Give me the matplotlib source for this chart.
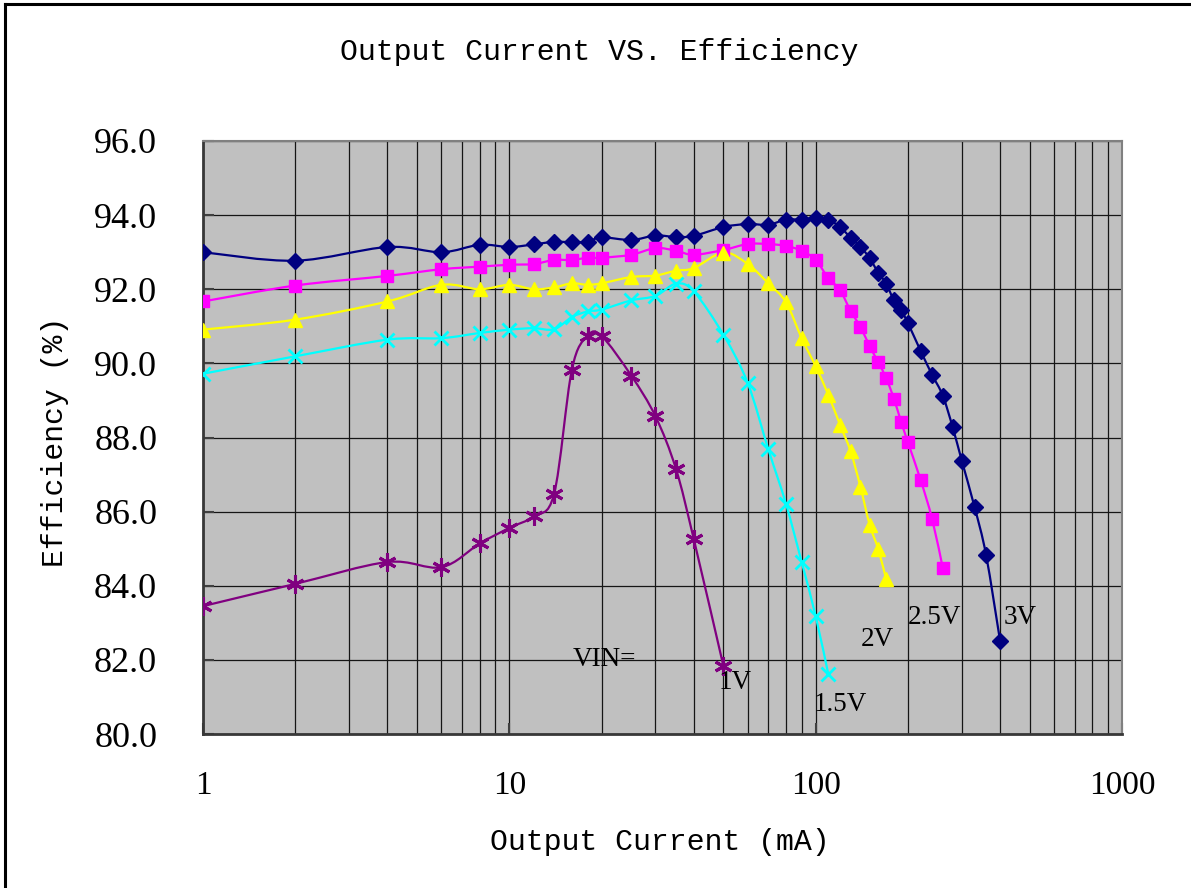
import numpy as np
import matplotlib
matplotlib.use("Agg")
import matplotlib.pyplot as plt
from matplotlib.path import Path
from matplotlib.patches import PathPatch
from matplotlib.lines import Line2D
from matplotlib.ticker import FixedLocator, NullFormatter

# ---- data (current in mA, efficiency in %)
current_3v = [1, 2, 4, 6, 8, 10, 12, 14, 16, 18, 20, 25, 30, 35, 40, 50, 60, 70, 80, 90,
              100, 110, 120, 130, 140, 150, 160, 170, 180, 190, 200, 220, 240, 260, 280,
              300, 330, 360, 400]
eff_3v = [93.00, 92.77, 93.14, 93.00, 93.20, 93.14, 93.21, 93.28, 93.27, 93.28, 93.40,
          93.33, 93.45, 93.41, 93.44, 93.68, 93.76, 93.74, 93.88, 93.88, 93.93, 93.87,
          93.69, 93.39, 93.15, 92.84, 92.45, 92.15, 91.70, 91.44, 91.09, 90.34, 89.69,
          89.13, 88.28, 87.37, 86.13, 84.83, 82.51]

current_25v = [1, 2, 4, 6, 8, 10, 12, 14, 16, 18, 20, 25, 30, 35, 40, 50, 60, 70, 80, 90,
               100, 110, 120, 130, 140, 150, 160, 170, 180, 190, 200, 220, 240, 260]
eff_25v = [91.67, 92.10, 92.36, 92.54, 92.61, 92.66, 92.68, 92.79, 92.79, 92.85, 92.85,
           92.93, 93.11, 93.04, 92.93, 93.06, 93.22, 93.22, 93.17, 93.04, 92.79, 92.30,
           91.98, 91.42, 90.98, 90.47, 90.03, 89.60, 89.05, 88.43, 87.87, 86.86, 85.80,
           84.48]

current_2v = [1, 2, 4, 6, 8, 10, 12, 14, 16, 18, 20, 25, 30, 35, 40, 50, 60, 70, 80, 90,
              100, 110, 120, 130, 140, 150, 160, 170]
eff_2v = [90.91, 91.18, 91.67, 92.12, 92.00, 92.12, 92.00, 92.05, 92.16, 92.12, 92.16,
          92.33, 92.37, 92.50, 92.57, 92.99, 92.68, 92.16, 91.65, 90.68, 89.92, 89.15,
          88.35, 87.63, 86.67, 85.65, 84.99, 84.17]

current_15v = [1, 2, 4, 6, 8, 10, 12, 14, 16, 18, 20, 25, 30, 35, 40, 50, 60, 70, 80, 90,
               100, 110]
eff_15v = [89.72, 90.19, 90.64, 90.68, 90.82, 90.91, 90.95, 90.92, 91.25, 91.40, 91.45,
           91.70, 91.82, 92.15, 91.94, 90.77, 89.47, 87.69, 86.21, 84.64, 83.18, 81.61]

current_1v = [1, 2, 4, 6, 8, 10, 12, 14, 16, 18, 20, 25, 30, 35, 40, 50]
eff_1v = [83.45, 84.05, 84.64, 84.50, 85.14, 85.56, 85.87, 86.48, 89.83, 90.74, 90.74,
          89.67, 88.57, 87.15, 85.26, 81.83]

y_ticks = [80, 82, 84, 86, 88, 90, 92, 94, 96]
x_ticks = [1, 10, 100, 1000]

# label text and where it sits (data coords)
series_labels = [("VIN=", 20.5, 82.0), ("1V", 54.5, 81.4), ("1.5V", 120, 80.8),
                 ("2V", 159, 82.55), ("2.5V", 245, 83.15), ("3V", 465, 83.15)]


def smooth_path(xs, ys):
    """Excel-like smoothed line: Catmull-Rom bezier in log-x space."""
    lx = np.log10(np.asarray(xs, float))
    y = np.asarray(ys, float)
    n = len(lx)
    verts = [(lx[0], y[0])]
    codes = [Path.MOVETO]
    for i in range(n - 1):
        a = max(i - 1, 0)
        b = min(i + 2, n - 1)
        c1 = (lx[i] + (lx[i + 1] - lx[a]) / 6, y[i] + (y[i + 1] - y[a]) / 6)
        c2 = (lx[i + 1] - (lx[b] - lx[i]) / 6, y[i + 1] - (y[b] - y[i]) / 6)
        verts += [c1, c2, (lx[i + 1], y[i + 1])]
        codes += [Path.CURVE4] * 3
    verts = np.array(verts)
    verts[:, 0] = 10 ** verts[:, 0]
    return Path(verts, codes)


serif = "Liberation Serif"
mono = "Liberation Mono"

fig = plt.figure(figsize=(11.91, 8.88), dpi=100)
ax = fig.add_axes([203 / 1191, 1 - 734 / 888, (1122 - 203) / 1191, (734 - 141) / 888])
ax.set_facecolor("#c0c0c0")
ax.set_xscale("log")
ax.set_xlim(1, 1000)
ax.set_ylim(80, 96)

# grid: every 1..9 per decade vertically, every 2 % horizontally
minor = [m * 10 ** d for d in range(3) for m in range(2, 10)]
ax.xaxis.set_minor_locator(FixedLocator(minor))
ax.xaxis.set_minor_formatter(NullFormatter())
ax.set_xticks(x_ticks)
ax.set_xticklabels([str(v) for v in x_ticks])
ax.set_yticks(y_ticks)
ax.set_yticklabels([f"{v:.1f}" for v in y_ticks])
ax.grid(True, which="both", axis="x", color="#151515", lw=0.9)
ax.grid(True, which="major", axis="y", color="#151515", lw=0.9)
ax.set_axisbelow(True)

ax.tick_params(axis="both", which="major", direction="in", length=8, width=1.5,
               color="#404040", labelcolor="black")
ax.tick_params(axis="y", pad=33, labelsize=26)
ax.tick_params(axis="x", pad=26, labelsize=24)
ax.tick_params(axis="x", which="minor", length=0)
for lab in ax.get_xticklabels() + ax.get_yticklabels():
    lab.set_fontfamily(serif)

for side in ("left", "bottom"):
    ax.spines[side].set_color("#383838")
    ax.spines[side].set_linewidth(2)
for side in ("top", "right"):
    ax.spines[side].set_color("#808080")
    ax.spines[side].set_linewidth(1.5)

series = [
    (current_3v, eff_3v, "#000080", dict(marker="D", ms=8)),
    (current_25v, eff_25v, "#ff00ff", dict(marker="s", ms=8.5)),
    (current_2v, eff_2v, "#ffff00", dict(marker="^", ms=10)),
    (current_15v, eff_15v, "#00ffff", dict(marker="x", ms=9.5, mew=2)),
    (current_1v, eff_1v, "#800080", dict(marker=(6, 2, 0), ms=13, mew=2.2)),
]
for xs, ys, col, mk in series:
    ax.add_patch(PathPatch(smooth_path(xs, ys), fill=False, edgecolor=col, lw=1.6,
                           zorder=3))
    ax.plot(xs, ys, ls="none", color=col, mec=col, mfc=col, zorder=4, **mk)

for txt, x, y in series_labels:
    ax.text(x, y, txt, fontsize=19.5, family=serif, ha="center", va="center", zorder=5)

fig.text(599 / 1191, 1 - 52 / 888, "Output Current VS. Efficiency", family=mono,
         fontsize=21.5, ha="center", va="center")
fig.text(660 / 1191, 1 - 842 / 888, "Output Current (mA)", family=mono,
         fontsize=21.5, ha="center", va="center")
fig.text(55 / 1191, 1 - 442 / 888, "Efficiency (%)", family=mono, fontsize=21.5,
         ha="center", va="center", rotation=90)

# chart-area frame (cropped at right and bottom in the original)
fx, fy = 5 / 1191, 1 - 4 / 888
fig.add_artist(Line2D([fx, fx], [0, fy], color="black", lw=2.2, transform=fig.transFigure))
fig.add_artist(Line2D([fx, 1], [fy, fy], color="black", lw=2.2, transform=fig.transFigure))

fig.savefig("out.png", dpi=100)
